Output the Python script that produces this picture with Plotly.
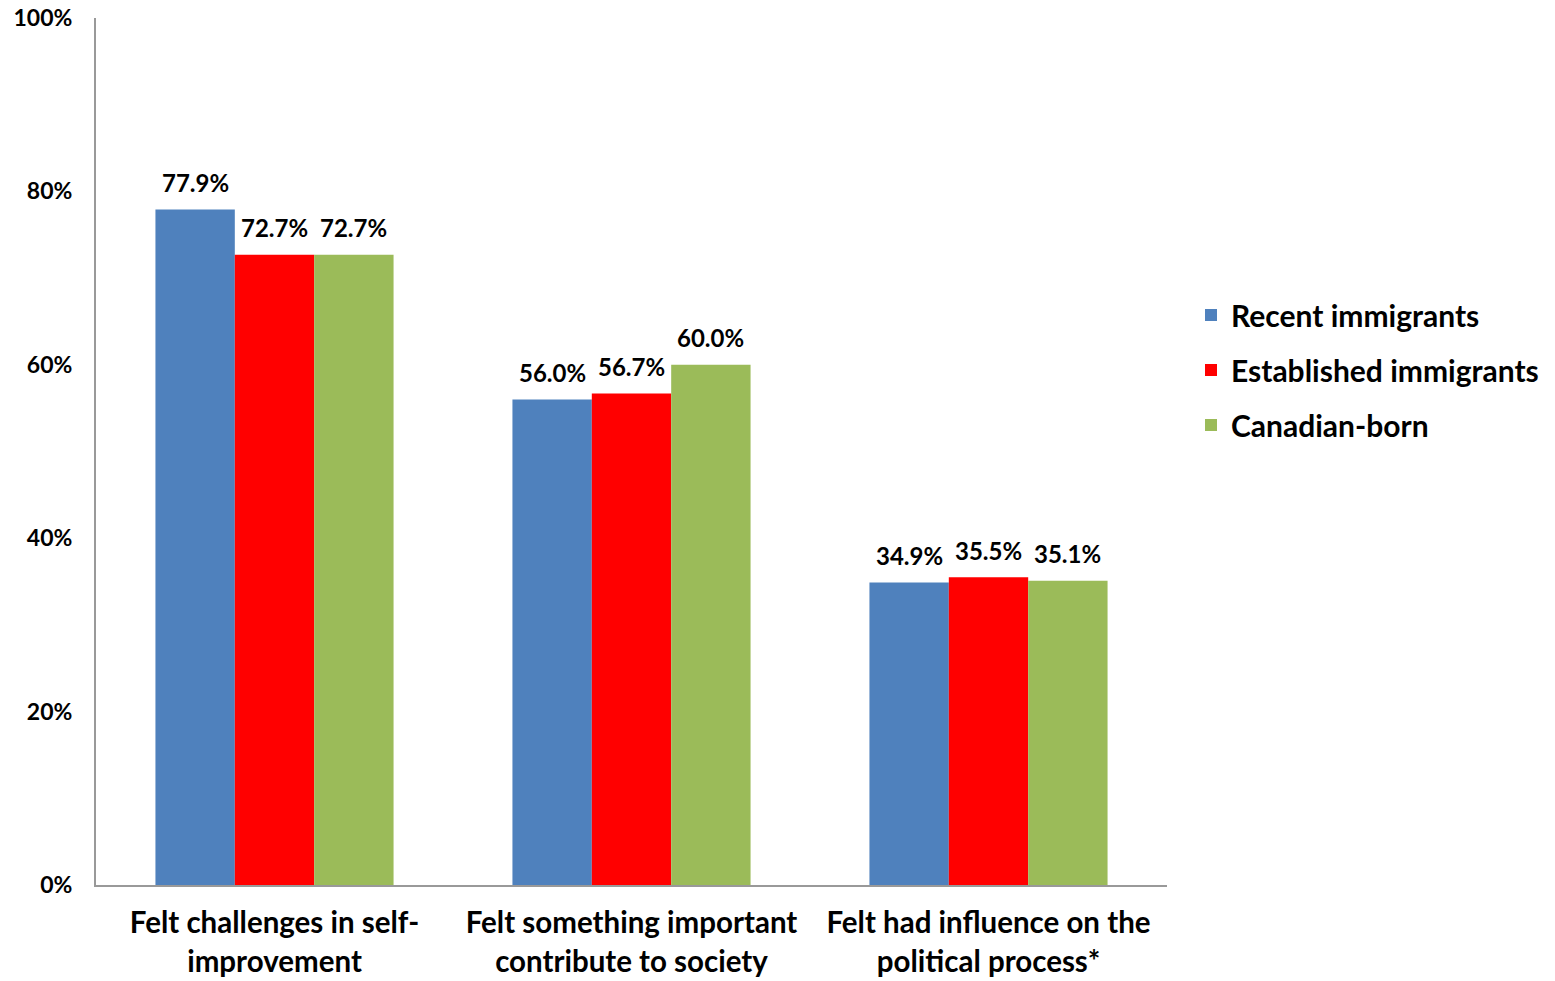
import plotly.graph_objects as go

categories = [
    "Felt challenges in self-<br>improvement",
    "Felt something important<br>contribute to society",
    "Felt had influence on the<br>political process*",
]
recent_immigrants = [77.9, 56.0, 34.9]
established_immigrants = [72.7, 56.7, 35.5]
canadian_born = [72.7, 60.0, 35.1]

series = [
    ("Recent immigrants", recent_immigrants, "#4F81BD"),
    ("Established immigrants", established_immigrants, "#FF0000"),
    ("Canadian-born", canadian_born, "#9BBB59"),
]

FONT = "Lato"
W, H = 1555, 981
M_L, M_R, M_T, M_B = 96, 388, 18, 96
BARGAP = 0.333

# pixel width of one bar, used to centre value labels over each bar
plot_w = W - M_L - M_R
bar_px = plot_w / len(categories) * (1 - BARGAP) / len(series)

fig = go.Figure()
for i, (name, vals, color) in enumerate(series):
    fig.add_trace(go.Bar(
        name=name,
        x=categories,
        y=vals,
        legendgroup=name,
        marker=dict(color=color, line=dict(width=0)),
    ))
    shift = (i - (len(series) - 1) / 2) * bar_px
    for cat, v in zip(categories, vals):
        fig.add_annotation(
            x=cat, y=v, xref="x", yref="y",
            text=f"{v:.1f}%",
            showarrow=False,
            xshift=shift, yshift=27,
            xanchor="center", yanchor="middle",
            font=dict(family=FONT, size=24, color="black", weight="bold"),
        )

fig.update_layout(
    width=W,
    height=H,
    margin=dict(l=M_L, r=M_R, t=M_T, b=M_B, autoexpand=False),
    plot_bgcolor="white",
    paper_bgcolor="white",
    barmode="group",
    bargap=BARGAP,
    bargroupgap=0,
    font=dict(family=FONT, color="black"),
    legend=dict(
        # x is measured from the left of the plot area; >1 sits right of it
        x=1.0224, y=0.594, xanchor="left", yanchor="middle",
        font=dict(family=FONT, size=30, color="black", weight="bold"),
        tracegroupgap=13,
        itemsizing="constant",
    ),
    showlegend=True,
)

fig.update_yaxes(
    range=[0, 100],
    tickvals=[0, 20, 40, 60, 80, 100],
    ticktext=["0%", "20%", "40%", "60%", "80%", "100%"],
    showgrid=False,
    zeroline=False,
    showline=True,
    linecolor="#999999",
    linewidth=2,
    ticks="",
    automargin=False,
    ticklabelstandoff=17,
    tickfont=dict(family=FONT, size=23, color="black", weight="bold"),
)
fig.update_xaxes(
    showgrid=False,
    showline=True,
    linecolor="#999999",
    linewidth=2,
    ticks="",
    automargin=False,
    ticklabelstandoff=11,
    tickfont=dict(family=FONT, size=29.5, color="black", weight="bold"),
)

fig.write_html("out.html")
